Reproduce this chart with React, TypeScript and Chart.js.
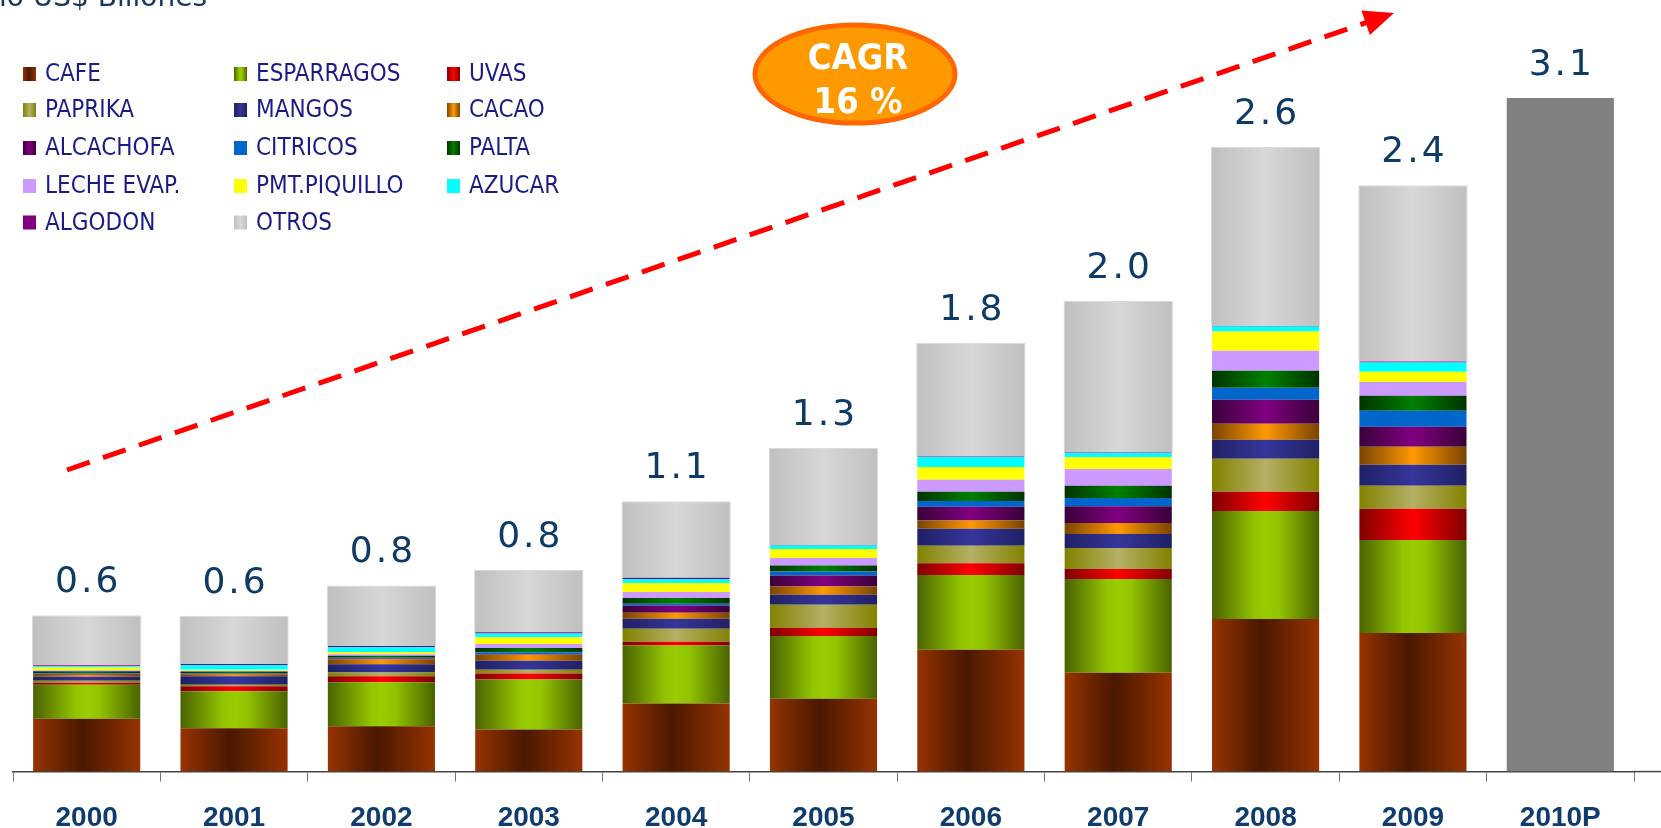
import { useEffect, useRef } from "react";
import { Chart, registerables } from "chart.js";

Chart.register(...registerables);

const YEARS = ["2000", "2001", "2002", "2003", "2004", "2005", "2006", "2007", "2008", "2009", "2010P"];
const TOTAL_LABELS = ["0.6", "0.6", "0.8", "0.8", "1.1", "1.3", "1.8", "2.0", "2.6", "2.4", "3.1"];

const CAFE = [0.216, 0.177, 0.185, 0.172, 0.278, 0.297, 0.497, 0.404, 0.623, 0.566, null];
const ESPARRAGOS = [0.139, 0.151, 0.18, 0.204, 0.237, 0.257, 0.306, 0.382, 0.441, 0.38, null];
const UVAS = [0.008, 0.02, 0.024, 0.024, 0.015, 0.033, 0.048, 0.041, 0.078, 0.127, null];
const PAPRIKA = [0.008, 0.007, 0.016, 0.016, 0.053, 0.094, 0.071, 0.086, 0.135, 0.094, null];
const MANGOS = [0.016, 0.034, 0.033, 0.037, 0.041, 0.041, 0.069, 0.057, 0.078, 0.086, null];
const CACAO = [0.008, 0.007, 0.02, 0.024, 0.024, 0.034, 0.034, 0.045, 0.065, 0.073, null];
const ALCACHOFA = [0.004, 0.003, 0.004, 0.002, 0.03, 0.045, 0.056, 0.068, 0.098, 0.082, null];
const CITRICOS = [0.003, 0.002, 0.003, 0.008, 0.007, 0.016, 0.024, 0.034, 0.049, 0.065, null];
const PALTA = [0.008, 0.008, 0.008, 0.018, 0.024, 0.024, 0.037, 0.05, 0.069, 0.061, null];
const LECHE_EVAP = [0.004, 0.003, 0.006, 0.016, 0.024, 0.031, 0.049, 0.068, 0.082, 0.057, null];
const PMT_PIQUILLO = [0.011, 0.004, 0.008, 0.027, 0.037, 0.037, 0.052, 0.048, 0.079, 0.041, null];
const AZUCAR = [0.005, 0.019, 0.022, 0.016, 0.016, 0.014, 0.041, 0.018, 0.02, 0.038, null];
const ALGODON = [0.004, 0.004, 0.004, 0.005, 0.005, 0.002, 0.002, 0.002, 0.002, 0.004, null];
const OTROS = [0.204, 0.197, 0.247, 0.254, 0.313, 0.396, 0.465, 0.618, 0.731, 0.72, null];
const PROYECCION_2010 = [null, null, null, null, null, null, null, null, null, null, 2.75];

const TITLE_TEXT = "lo US$ Billones";
const CAGR_LINES = ["CAGR", "16 %"];

const BAR_FRAC = 0.727;

type Stops = [number, string][];

function gradFill(stops: Stops, solid: string) {
  return (ctx: any) => {
    const chart = ctx.chart;
    const xs = chart.scales && chart.scales.x;
    if (!xs || !chart.chartArea || ctx.dataIndex === undefined) return solid;
    const cx = xs.getPixelForValue(ctx.dataIndex);
    const w = (xs.width / YEARS.length) * BAR_FRAC;
    const g = chart.ctx.createLinearGradient(cx - w / 2, 0, cx + w / 2, 0);
    stops.forEach(([o, c]) => g.addColorStop(o, c));
    return g;
  };
}

const sym = (edge: string, center: string): Stops => [
  [0, edge],
  [0.5, center],
  [1, edge],
];

const SERIES: { label: string; data: (number | null)[]; stops: Stops | null; solid: string }[] = [
  { label: "CAFE", data: CAFE, stops: [[0, "#963300"], [0.46, "#4a1800"], [1, "#963300"]], solid: "#7a2a00" },
  { label: "ESPARRAGOS", data: ESPARRAGOS, stops: [[0, "#4a6300"], [0.4, "#92c400"], [0.5, "#99cc00"], [0.62, "#92c400"], [1, "#4a6300"]], solid: "#88b000" },
  { label: "UVAS", data: UVAS, stops: sym("#800000", "#ff0000"), solid: "#e00000" },
  { label: "PAPRIKA", data: PAPRIKA, stops: sym("#828200", "#b4b066"), solid: "#a4a050" },
  { label: "MANGOS", data: MANGOS, stops: sym("#202066", "#36369a"), solid: "#2e2e8a" },
  { label: "CACAO", data: CACAO, stops: sym("#7a4400", "#ff9900"), solid: "#e08800" },
  { label: "ALCACHOFA", data: ALCACHOFA, stops: sym("#3a003a", "#800080"), solid: "#660066" },
  { label: "CITRICOS", data: CITRICOS, stops: null, solid: "#0066cc" },
  { label: "PALTA", data: PALTA, stops: sym("#003300", "#008000"), solid: "#006400" },
  { label: "LECHE EVAP.", data: LECHE_EVAP, stops: null, solid: "#cc99ff" },
  { label: "PMT.PIQUILLO", data: PMT_PIQUILLO, stops: null, solid: "#ffff00" },
  { label: "AZUCAR", data: AZUCAR, stops: null, solid: "#00ffff" },
  { label: "ALGODON", data: ALGODON, stops: null, solid: "#800080" },
  { label: "OTROS", data: OTROS, stops: [[0, "#c0c0c0"], [0.5, "#d7d7d7"], [1, "#c0c0c0"]], solid: "#cccccc" },
];

const LEGEND_COL_X = [23, 234, 447];
const LEGEND_ROW_Y = [74, 110, 148, 186, 222.5];

const overlayPlugin = {
  id: "overlay",
  afterDatasetsDraw(chart: any) {
    const ctx = chart.ctx as CanvasRenderingContext2D;
    const xs = chart.scales.x;
    const ys = chart.scales.y;
    const area = chart.chartArea;
    ctx.save();

    // axis line extension to the right edge
    ctx.strokeStyle = "#444";
    ctx.lineWidth = 1.5;
    ctx.beginPath();
    ctx.moveTo(area.right, area.bottom);
    ctx.lineTo(chart.width, area.bottom);
    ctx.stroke();

    // total labels
    ctx.fillStyle = "#0d3a66";
    ctx.font = '36px "DejaVu Sans", sans-serif';
    (ctx as any).letterSpacing = "3px";
    ctx.textAlign = "center";
    ctx.textBaseline = "alphabetic";
    YEARS.forEach((_, i) => {
      let sum = 0;
      chart.data.datasets.forEach((ds: any) => {
        const v = ds.data[i];
        if (typeof v === "number") sum += v;
      });
      const top = ys.getPixelForValue(sum);
      ctx.fillText(TOTAL_LABELS[i], xs.getPixelForValue(i) + 1.5, top - 23);
    });
    (ctx as any).letterSpacing = "0px";

    // dashed trend arrow
    const sx = 67, sy = 470, tx = 1394, ty = 13;
    const dx = tx - sx, dy = ty - sy;
    const len = Math.hypot(dx, dy);
    const ux = dx / len, uy = dy / len;
    const headLen = 30, headHalf = 13;
    const bx = tx - ux * headLen, by = ty - uy * headLen;
    ctx.strokeStyle = "#ff0000";
    ctx.lineWidth = 5;
    ctx.setLineDash([24, 14]);
    ctx.beginPath();
    ctx.moveTo(sx, sy);
    ctx.lineTo(bx + ux * 4, by + uy * 4);
    ctx.stroke();
    ctx.setLineDash([]);
    ctx.fillStyle = "#ff0000";
    ctx.beginPath();
    ctx.moveTo(tx, ty);
    ctx.lineTo(bx - uy * headHalf, by + ux * headHalf);
    ctx.lineTo(bx + uy * headHalf, by - ux * headHalf);
    ctx.closePath();
    ctx.fill();

    // CAGR ellipse
    ctx.beginPath();
    ctx.ellipse(855, 74, 100, 49, 0, 0, Math.PI * 2);
    ctx.fillStyle = "#ff9900";
    ctx.fill();
    ctx.lineWidth = 5;
    ctx.strokeStyle = "#ff6600";
    ctx.stroke();
    ctx.fillStyle = "#ffffff";
    ctx.font = 'bold 36px "Liberation Sans Narrow", "DejaVu Sans Condensed", sans-serif';
    ctx.textAlign = "center";
    ctx.textBaseline = "middle";
    ctx.fillText(CAGR_LINES[0], 858, 60);
    ctx.fillText(CAGR_LINES[1], 858, 104);

    // title (partially cut at top)
    ctx.fillStyle = "#17375e";
    ctx.font = '28px "DejaVu Sans", sans-serif';
    ctx.textAlign = "left";
    ctx.textBaseline = "alphabetic";
    ctx.fillText(TITLE_TEXT, -1, 6);

    // legend
    ctx.font = '24px "Liberation Sans Narrow", "DejaVu Sans Condensed", sans-serif';
    ctx.textBaseline = "middle";
    SERIES.forEach((s, i) => {
      const col = i % 3;
      const row = Math.floor(i / 3);
      const x = LEGEND_COL_X[col];
      const y = LEGEND_ROW_Y[row];
      const w = 13, h = 14;
      if (s.stops) {
        const g = ctx.createLinearGradient(x, 0, x + w, 0);
        s.stops.forEach(([o, c]) => g.addColorStop(o, c));
        ctx.fillStyle = g;
      } else {
        ctx.fillStyle = s.solid;
      }
      ctx.fillRect(x, y - h / 2, w, h);
      ctx.fillStyle = "#1b1b86";
      ctx.fillText(s.label, x + 22, y + 1);
    });

    ctx.restore();
  },
};

export default function App() {
  const ref = useRef<HTMLCanvasElement | null>(null);

  useEffect(() => {
    if (!ref.current) return;
    const datasets: any[] = SERIES.map((s) => ({
      label: s.label,
      data: s.data,
      backgroundColor: s.stops ? gradFill(s.stops, s.solid) : s.solid,
      borderWidth: s.label === "OTROS" ? 1 : 0,
      borderColor: "#dadada",
      barPercentage: s.label === "OTROS" ? 0.742 : BAR_FRAC,
      categoryPercentage: 1,
      stack: "s",
    }));
    datasets.push({
      label: "2010P",
      data: PROYECCION_2010,
      backgroundColor: "#808080",
      borderWidth: 0,
      barPercentage: BAR_FRAC,
      categoryPercentage: 1,
      stack: "s",
    });

    const chart = new Chart(ref.current, {
      type: "bar",
      data: { labels: YEARS, datasets },
      options: {
        responsive: false,
        maintainAspectRatio: false,
        animation: false,
        devicePixelRatio: 1,
        layout: { padding: { left: 13, right: 27, top: 0, bottom: -26.4 } },
        plugins: {
          legend: { display: false },
          tooltip: { enabled: false },
        },
        scales: {
          x: {
            stacked: true,
            offset: true,
            grid: {
              display: true,
              drawOnChartArea: false,
              drawTicks: true,
              tickLength: 10,
              color: "#777777",
              offset: true,
            },
            border: { display: true, color: "#444444", width: 1.5 },
            ticks: {
              color: "#0f3c6e",
              padding: 28,
              font: { family: '"Liberation Sans", Arial, sans-serif', size: 28, weight: "bold", lineHeight: 0.6 },
              maxRotation: 0,
              autoSkip: false,
            },
          },
          y: {
            stacked: true,
            display: false,
            min: 0,
            max: 3.15,
          },
        },
      },
      plugins: [overlayPlugin],
    });
    return () => chart.destroy();
  }, []);

  return (
    <div style={{ position: "fixed", left: 0, top: 0, width: 1661, height: 828, background: "#ffffff" }}>
      <canvas ref={ref} width={1661} height={828} style={{ width: 1661, height: 828, display: "block" }} />
    </div>
  );
}
